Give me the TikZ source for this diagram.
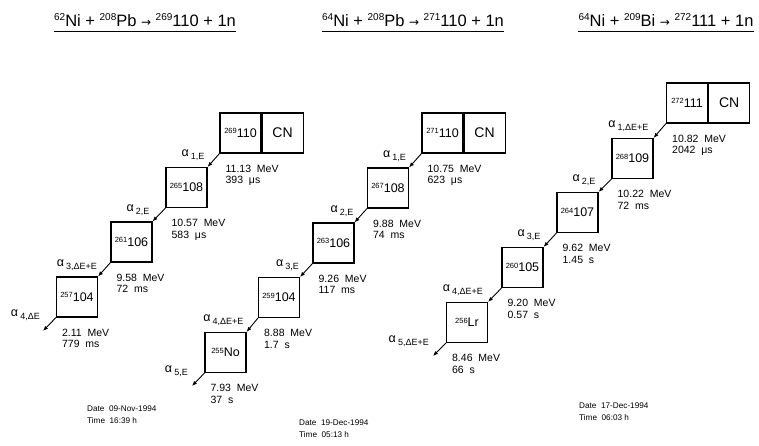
\documentclass[tikz,border=0pt]{standalone}
\usepackage{fontspec}
\setmainfont{Liberation Sans}
\newfontfamily\djv{DejaVu Sans}
\usetikzlibrary{arrows.meta}
\newcommand\nsup[1]{\raisebox{3.5pt}{\fontsize{7.5}{7.5}\selectfont #1}}
\newcommand\tsup[1]{\raisebox{5.5pt}{\fontsize{10}{10}\selectfont #1}}
\newcommand\alsub[1]{α\,\raisebox{-3pt}{\fontsize{9}{9}\selectfont #1}}
\tikzset{
  nuc/.style={draw, line width=1.1pt, minimum width=41pt, minimum height=40pt, inner sep=0pt, font=\fontsize{12.5}{13}\selectfont},
  cn/.style={nuc, font=\fontsize{14}{15}\selectfont},
  dec/.style={-{Latex[length=5pt,width=4pt]}, line width=0.9pt},
  alab/.style={anchor=south east, inner sep=0pt, font=\fontsize{12.5}{13}\selectfont},
  elab/.style={anchor=north west, align=left, inner sep=0pt, font=\fontsize{10.5}{11.5}\selectfont},
  ttl/.style={font=\fontsize{16.5}{17}\selectfont, inner sep=0pt},
  uline/.style={line width=1.3pt},
  dlab/.style={anchor=north west, align=left, inner sep=0pt, font=\fontsize{8.2}{11.5}\selectfont},
}
\begin{document}
\begin{tikzpicture}[x=1pt,y=-1pt]
\useasboundingbox[fill=white] (0,0) rectangle (759,446);

% titles
\node[ttl] (t1) at (145,20) {\tsup{62}Ni + \tsup{208}Pb {\djv\fontsize{12}{12}\selectfont →} \tsup{269}110 + 1n};
\node[ttl] (t2) at (413,20) {\tsup{64}Ni + \tsup{208}Pb {\djv\fontsize{12}{12}\selectfont →} \tsup{271}110 + 1n};
\node[ttl] (t3) at (666,20) {\tsup{64}Ni + \tsup{209}Bi {\djv\fontsize{12}{12}\selectfont →} \tsup{272}111 + 1n};
\draw[uline] ([yshift=-5pt]t1.south west) -- ([yshift=-5pt]t1.south east);
\draw[uline] ([yshift=-5pt]t2.south west) -- ([yshift=-5pt]t2.south east);
\draw[uline] ([yshift=-5pt]t3.south west) -- ([yshift=-5pt]t3.south east);

% chain 1
\node[nuc] (a1) at (240.5,133) {\nsup{269}110};
\node[cn, anchor=west] (a1cn) at (a1.east) {CN};
\node[nuc] (a2) at (186.5,187.5) {\nsup{265}108};
\node[nuc] (a3) at (131.5,242) {\nsup{261}106};
\node[nuc] (a4) at (77,297) {\nsup{257}104};
\coordinate (a5) at (43,331);
\draw[dec] (a1.south west) -- (a2.north east);
\draw[dec] (a2.south west) -- (a3.north east);
\draw[dec] (a3.south west) -- (a4.north east);
\draw[dec] (a4.south west) -- (a5);
\node[alab] (la1) at ([xshift=-3pt,yshift=6pt]a2.north east) {\alsub{1,E}};
\node[alab] (la2) at ([xshift=-3pt,yshift=6pt]a3.north east) {\alsub{2,E}};
\node[alab] (la3) at ([xshift=-1pt,yshift=6pt]a4.north east) {\alsub{3,ΔE+E}};
\node[alab] (la4) at ([xshift=-3pt,yshift=10pt]a5) {\alsub{4,ΔE}};
\node[elab] (ea1) at ([xshift=6pt,yshift=-11pt]a1.south west) {11.13 \ MeV\\393 \ μs};
\node[elab] (ea2) at ([xshift=6pt,yshift=-11pt]a2.south west) {10.57 \ MeV\\583 \ μs};
\node[elab] (ea3) at ([xshift=6pt,yshift=-11pt]a3.south west) {9.58 \ MeV\\72 \ ms};
\node[elab] (ea4) at ([xshift=6pt,yshift=-11pt]a4.south west) {2.11 \ MeV\\779 \ ms};
\node[dlab] (da) at (87,406) {Date \ 09-Nov-1994\\Time \ 16:39 h};

% chain 2
\node[nuc] (b1) at (442.5,133) {\nsup{271}110};
\node[cn, anchor=west] (b1cn) at (b1.east) {CN};
\node[nuc] (b2) at (388,188) {\nsup{267}108};
\node[nuc] (b3) at (333.5,243) {\nsup{263}106};
\node[nuc] (b4) at (279,297.5) {\nsup{259}104};
\node[nuc] (b5) at (225.5,352.5) {\nsup{255}No};
\coordinate (b6) at (192,386);
\draw[dec] (b1.south west) -- (b2.north east);
\draw[dec] (b2.south west) -- (b3.north east);
\draw[dec] (b3.south west) -- (b4.north east);
\draw[dec] (b4.south west) -- (b5.north east);
\draw[dec] (b5.south west) -- (b6);
\node[alab] (lb1) at ([xshift=-3pt,yshift=6pt]b2.north east) {\alsub{1,E}};
\node[alab] (lb2) at ([xshift=-1pt,yshift=6pt]b3.north east) {\alsub{2,E}};
\node[alab] (lb3) at ([xshift=-1pt,yshift=6pt]b4.north east) {\alsub{3,E}};
\node[alab] (lb4) at ([xshift=-3pt,yshift=6pt]b5.north east) {\alsub{4,ΔE+E}};
\node[alab] (lb5) at ([xshift=-4pt,yshift=9pt]b6) {\alsub{5,E}};
\node[elab] (eb1) at ([xshift=6pt,yshift=-11pt]b1.south west) {10.75 \ MeV\\623 \ μs};
\node[elab] (eb2) at ([xshift=6pt,yshift=-11pt]b2.south west) {9.88 \ MeV\\74 \ ms};
\node[elab] (eb3) at ([xshift=6pt,yshift=-11pt]b3.south west) {9.26 \ MeV\\117 \ ms};
\node[elab] (eb4) at ([xshift=6pt,yshift=-11pt]b4.south west) {8.88 \ MeV\\1.7 \ s};
\node[elab] (eb5) at ([xshift=6pt,yshift=-11pt]b5.south west) {7.93 \ MeV\\37 \ s};
\node[dlab] (db) at (299,420) {Date \ 19-Dec-1994\\Time \ 05:13 h};

% chain 3
\node[nuc] (c1) at (687,103) {\nsup{272}111};
\node[cn, anchor=west] (c1cn) at (c1.east) {CN};
\node[nuc] (c2) at (632.5,158.5) {\nsup{268}109};
\node[nuc] (c3) at (577.5,212.5) {\nsup{264}107};
\node[nuc] (c4) at (522.5,267.5) {\nsup{260}105};
\node[nuc] (c5) at (467,322.5) {\nsup{256}Lr};
\coordinate (c6) at (433,356);
\draw[dec] (c1.south west) -- (c2.north east);
\draw[dec] (c2.south west) -- (c3.north east);
\draw[dec] (c3.south west) -- (c4.north east);
\draw[dec] (c4.south west) -- (c5.north east);
\draw[dec] (c5.south west) -- (c6);
\node[alab] (lc1) at ([xshift=-5pt,yshift=6pt]c2.north east) {\alsub{1,ΔE+E}};
\node[alab] (lc2) at ([xshift=-3pt,yshift=6pt]c3.north east) {\alsub{2,E}};
\node[alab] (lc3) at ([xshift=-3pt,yshift=6pt]c4.north east) {\alsub{3,E}};
\node[alab] (lc4) at ([xshift=-5pt,yshift=6pt]c5.north east) {\alsub{4,ΔE+E}};
\node[alab] (lc5) at ([xshift=-4pt,yshift=9pt]c6) {\alsub{5,ΔE+E}};
\node[elab] (ec1) at ([xshift=6pt,yshift=-11pt]c1.south west) {10.82 \ MeV\\2042 \ μs};
\node[elab] (ec2) at ([xshift=6pt,yshift=-11pt]c2.south west) {10.22 \ MeV\\72 \ ms};
\node[elab] (ec3) at ([xshift=6pt,yshift=-11pt]c3.south west) {9.62 \ MeV\\1.45 \ s};
\node[elab] (ec4) at ([xshift=6pt,yshift=-11pt]c4.south west) {9.20 \ MeV\\0.57 \ s};
\node[elab] (ec5) at ([xshift=6pt,yshift=-11pt]c5.south west) {8.46 \ MeV\\66 \ s};
\node[dlab] (dc) at (579,403) {Date \ 17-Dec-1994\\Time \ 06:03 h};
\end{tikzpicture}
\end{document}
